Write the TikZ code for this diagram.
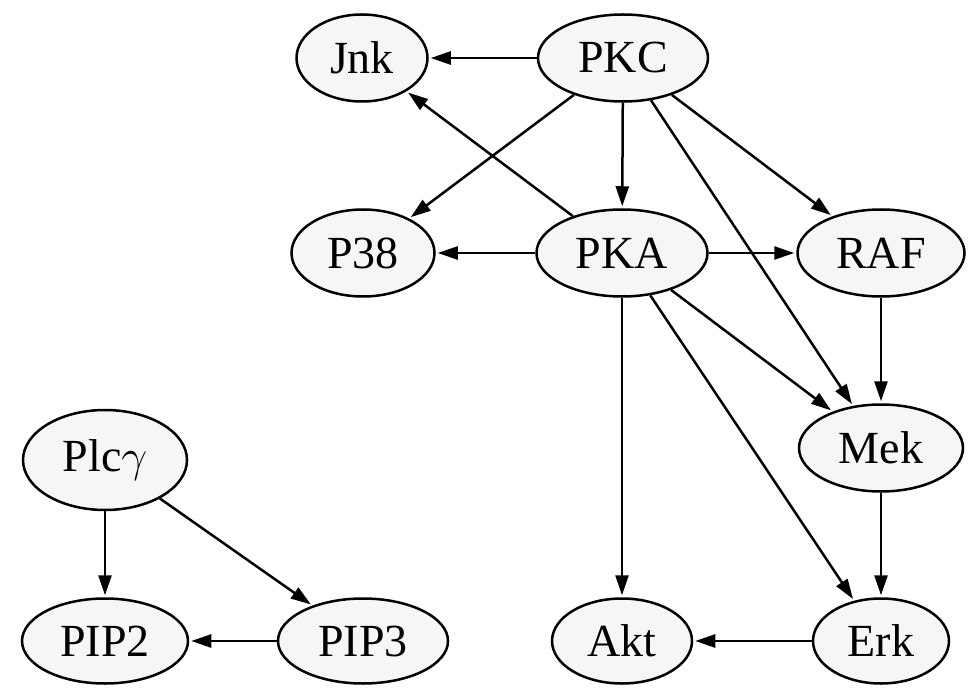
\RequirePackage{fix-cm}
\documentclass[tikz,border=0pt]{standalone}
\usepackage{fontspec}
\setmainfont{Liberation Serif}
\usetikzlibrary{shapes.geometric,arrows.meta}
\tikzset{
  nd/.style={ellipse, draw=black, line width=2.5pt, fill=gray!7, inner sep=0pt,
    minimum height=87pt, font=\fontsize{46}{55}\selectfont},
  edge/.style={line width=2.5pt, -{Triangle[length=20pt,width=13pt]}, shorten >=2pt}
}
\begin{document}
\begin{tikzpicture}[x=1pt,y=1pt]
\useasboundingbox (0,0) rectangle (974,-700);
\node[nd, minimum width=131pt] (jnk) at (362,-58) {Jnk};
\node[nd, minimum width=170pt] (pkc) at (623,-58) {PKC};
\node[nd, minimum width=143pt] (p38) at (363,-253) {P38};
\node[nd, minimum width=171pt] (pka) at (622,-253) {PKA};
\node[nd, minimum width=167pt] (raf) at (881,-253) {RAF};
\node[nd, minimum width=164pt] (mek) at (881,-448) {Mek};
\node[nd, minimum width=164pt, minimum height=100pt] (plc) at (105,-460) {Plc$\gamma$};
\node[nd, minimum width=166pt, minimum height=85pt] (pip2) at (105,-641) {PIP2};
\node[nd, minimum width=170pt, minimum height=85pt] (pip3) at (363,-641) {PIP3};
\node[nd, minimum width=140pt, minimum height=85pt] (akt) at (622,-641) {Akt};
\node[nd, minimum width=136pt, minimum height=85pt] (erk) at (881,-641) {Erk};
\draw[edge] (pkc) -- (jnk);
\draw[edge] (pkc) -- (p38);
\draw[edge] (pkc) -- (pka);
\draw[edge] (pkc) -- (raf);
\draw[edge] (pkc) -- (mek);
\draw[edge] (pka) -- (jnk);
\draw[edge] (pka) -- (p38);
\draw[edge] (pka) -- (raf);
\draw[edge] (pka) -- (mek);
\draw[edge] (pka) -- (akt);
\draw[edge] (pka) -- (erk);
\draw[edge] (raf) -- (mek);
\draw[edge] (mek) -- (erk);
\draw[edge] (erk) -- (akt);
\draw[edge] (plc) -- (pip2);
\draw[edge] (plc) -- (pip3);
\draw[edge] (pip3) -- (pip2);
\end{tikzpicture}
\end{document}
